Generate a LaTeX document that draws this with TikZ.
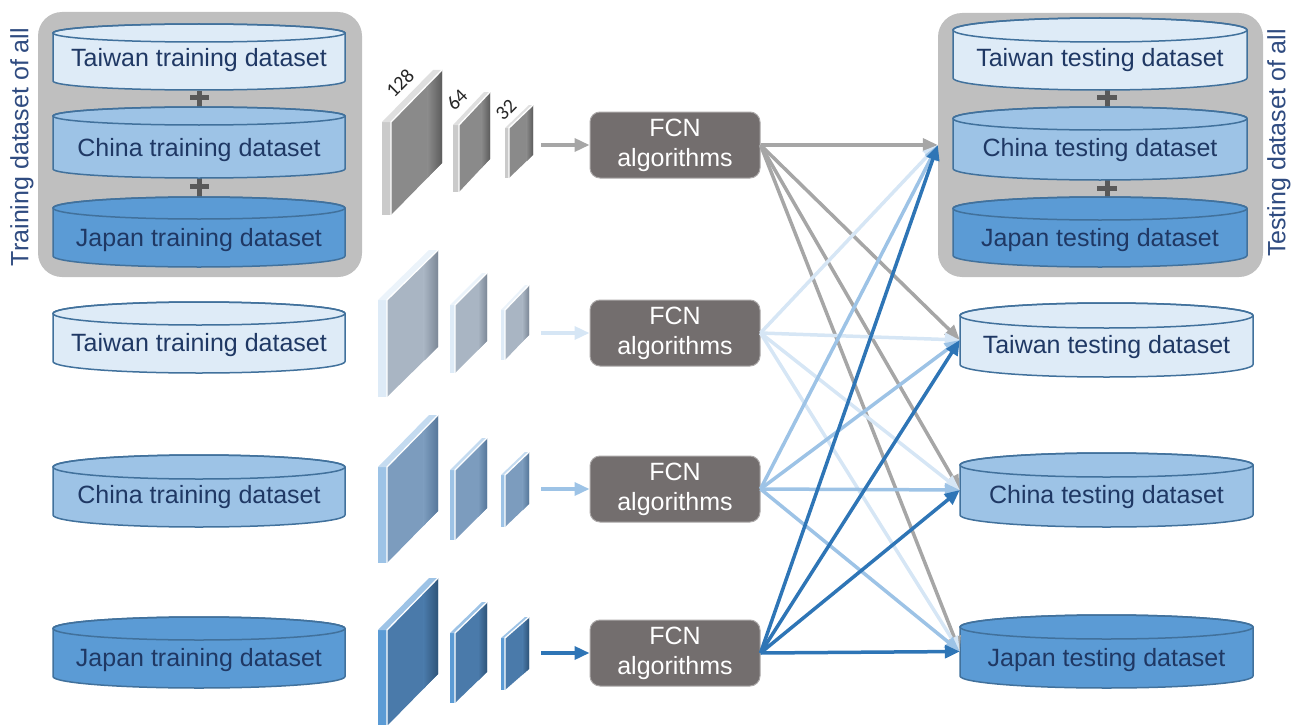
\documentclass[tikz,border=0pt]{standalone}
\usepackage{fontspec}
\setmainfont{Liberation Sans}
\newfontfamily\calibfont{Carlito}
\usetikzlibrary{arrows.meta}

\definecolor{twfill}{HTML}{DEEBF7}
\definecolor{cnfill}{HTML}{9DC3E6}
\definecolor{jpfill}{HTML}{5B9BD5}
\definecolor{cylline}{HTML}{41719C}
\definecolor{txtnavy}{HTML}{1F3864}
\definecolor{grpgray}{HTML}{BFBFBF}
\definecolor{fcnfill}{HTML}{736E6E}
\definecolor{plusgray}{HTML}{595959}
\definecolor{agray}{HTML}{A6A6A6}
\definecolor{alight}{HTML}{D6E6F5}
\definecolor{amid}{HTML}{9DC3E6}
\definecolor{adark}{HTML}{2E75B6}
\definecolor{vlabel}{HTML}{2F4B80}
% slab colours
\definecolor{gstrip}{HTML}{CACACA}
\definecolor{gfacel}{HTML}{8A8A8A}
\definecolor{gfacer}{HTML}{5C5C5C}
\definecolor{lstrip}{HTML}{DEEBF7}
\definecolor{lfacel}{HTML}{A9B5C3}
\definecolor{lfacer}{HTML}{7C8897}
\definecolor{mstrip}{HTML}{9DC3E6}
\definecolor{mfacel}{HTML}{7C9CBE}
\definecolor{mfacer}{HTML}{56779A}
\definecolor{dstrip}{HTML}{5B9BD5}
\definecolor{dfacel}{HTML}{4A7AAA}
\definecolor{dfacer}{HTML}{2E5479}

\newcommand{\mycyl}[9]{%
  \pgfmathsetmacro{\cxa}{(#2+#3)/2}%
  \pgfmathsetmacro{\rxa}{(#3-#2)/2}%
  \pgfmathsetmacro{\yta}{#4+#6}%
  \pgfmathsetmacro{\yba}{#5-#6}%
  \pgfmathsetmacro{\cya}{(#4+#5)/2}%
  \pgfmathsetmacro{\wa}{#3-#2}%
  \pgfmathsetmacro{\ha}{#5-#4}%
  \filldraw[fill=#7, draw=cylline, line width=1.5pt, line join=round]
    (#2,\yta) -- (#2,\yba) arc[start angle=180, end angle=360, x radius=\rxa pt, y radius=#6 pt]
    -- (#3,\yta) arc[start angle=0, end angle=180, x radius=\rxa pt, y radius=#6 pt] -- cycle;
  \draw[draw=cylline, line width=1.5pt] (\cxa,\yta) ellipse[x radius=\rxa pt, y radius=#6 pt];
  \node[inner sep=0pt, minimum width=\wa pt, minimum height=\ha pt] (#1) at (\cxa,\cya) {};
  \node[cyltext] (#1-t) at (\cxa,#8) {#9};
}

% x, y (top-left of face), w, h, rise, thickness, colour prefix
\newcommand{\myslab}[7]{%
  \pgfmathsetmacro{\bx}{#1+0.72*#3}%
  \pgfmathsetmacro{\by}{#2-0.72*#5}%
  \fill[#7strip] (#1-#6,#2) -- (#1,#2) -- (#1,#2+#4) -- (#1-#6,#2+#4) -- cycle;
  \fill[#7strip!60!white] (#1-#6,#2) -- (#1+#3-#6,#2-#5) -- (#1+#3,#2-#5) -- (#1,#2) -- cycle;
  \fill[#7facel] (#1,#2) -- (#1+#3,#2-#5) -- (#1+#3,#2-#5+#4) -- (#1,#2+#4) -- cycle;
  \shade[left color=#7facel, right color=#7facer] (\bx,\by) -- (#1+#3,#2-#5) -- (#1+#3,#2-#5+#4) -- (\bx,\by+#4) -- cycle;
  \draw[white, line width=1.3pt, line join=round] (#1,#2+#4) -- (#1,#2) -- (#1+#3,#2-#5);
}

\tikzset{
  cyltext/.style={text=txtnavy, font=\fontsize{25}{30}\selectfont, inner sep=0pt},
  grp/.style={fill=grpgray, rounded corners=24pt, inner sep=0pt},
  fcn/.style={fill=fcnfill, draw=fcnfill!60!white, line width=1pt, rounded corners=10pt,
    minimum width=170pt, minimum height=66pt, inner sep=0pt, align=center, text=white,
    font=\fontsize{25}{30}\selectfont},
  vlab/.style={text=vlabel, font=\fontsize{25}{30}\selectfont, inner sep=0pt},
  numlbl/.style={text=black!85, font=\calibfont\fontsize{20}{24}\selectfont, inner sep=0pt},
  conn/.style={line width=3.5pt, -{Triangle[length=15pt,width=13pt]}},
  plusbar/.style={plusgray, line width=5pt}
}

\begin{document}
\begin{tikzpicture}[x=1pt, y=-1pt]
\useasboundingbox (0,0) rectangle (1304,725);

% group boxes
\node[grp, minimum width=324pt, minimum height=265pt] (trainall) at (200,144.5) {};
\node[grp, minimum width=325pt, minimum height=264pt] (testall) at (1100.5,145) {};

% plus signs
\draw[plusbar] (199,91) -- (199,107) (190,97) -- (209,97);
\draw[plusbar] (199,178) -- (199,197) (190,186) -- (209,186);
\draw[plusbar] (1107,90) -- (1107,107) (1097,97) -- (1117,97);
\draw[plusbar] (1107,180) -- (1107,197) (1097,188) -- (1117,188);

% left group cylinders
\mycyl{gtw}{53}{345}{24}{90}{9}{twfill}{60}{Taiwan training dataset}
\mycyl{gcn}{53}{345}{107}{178}{9}{cnfill}{150}{China training dataset}
\mycyl{gjp}{53}{345}{197}{267}{11}{jpfill}{240}{Japan training dataset}

% right group cylinders
\mycyl{htw}{953}{1247}{18}{90}{12}{twfill}{60}{Taiwan testing dataset}
\mycyl{hcn}{953}{1247}{107}{180}{11.5}{cnfill}{150}{China testing dataset}
\mycyl{hjp}{953}{1247}{197}{267}{11.5}{jpfill}{240}{Japan testing dataset}

% standalone training cylinders
\mycyl{trw}{53}{345}{302}{373}{11.5}{twfill}{345}{Taiwan training dataset}
\mycyl{trc}{53}{345}{455}{527}{12}{cnfill}{497}{China training dataset}
\mycyl{trj}{53}{345}{617}{688}{11.5}{jpfill}{660}{Japan training dataset}

% standalone testing cylinders
\mycyl{tt}{960}{1253}{303}{377}{12.5}{twfill}{347}{Taiwan testing dataset}
\mycyl{ct}{960}{1253}{453}{527}{12}{cnfill}{497}{China testing dataset}
\mycyl{jt}{960}{1253}{615}{688}{12}{jpfill}{660}{Japan testing dataset}

% vertical labels
\node[vlab, rotate=90] (trainlbl) at (22,147) {Training dataset of all};
\node[vlab, rotate=90] (testlbl) at (1279,143) {Testing dataset of all};

% layer slabs, row 1 (gray)
\myslab{391}{122}{51}{93}{52}{9}{g}
\myslab{459}{125}{31}{67}{33}{6}{g}
\myslab{509}{128}{24}{50}{23}{4}{g}
\node[numlbl, rotate=45] (n128) at (400,83) {128};
\node[numlbl, rotate=45] (n64) at (457,100) {64};
\node[numlbl, rotate=45] (n32) at (506,110) {32};

% row 2 (light blue)
\myslab{387}{300}{51}{97}{50}{9}{l}
\myslab{455}{305}{32}{68}{32}{5}{l}
\myslab{505}{310}{24}{50}{25}{4}{l}

% row 3 (mid blue)
\myslab{387}{467}{51}{96}{52}{9}{m}
\myslab{455}{470}{32}{70}{32}{5}{m}
\myslab{505}{475}{24}{52}{23}{4}{m}

% row 4 (dark blue)
\myslab{387}{630}{51}{96}{52}{9}{d}
\myslab{455}{633}{32}{70}{31}{5}{d}
\myslab{505}{638}{24}{52}{21}{4}{d}

% FCN boxes
\node[fcn] (f1) at (675,145) {FCN\\algorithms};
\node[fcn] (f2) at (675,333) {FCN\\algorithms};
\node[fcn] (f3) at (675,489) {FCN\\algorithms};
\node[fcn] (f4) at (675,653) {FCN\\algorithms};

% input arrows
\coordinate (s1) at (541,145);
\coordinate (s2) at (541,333);
\coordinate (s3) at (541,489);
\coordinate (s4) at (541,653);
\draw[conn, agray] (s1) -- (f1);
\draw[conn, alight] (s2) -- (f2);
\draw[conn, amid] (s3) -- (f3);
\draw[conn, adark] (s4) -- (f4);

% output connectors
\foreach \s/\c in {f1/agray, f2/alight, f3/amid, f4/adark} {
  \foreach \t in {testall, tt, ct, jt} {
    \draw[conn, \c] (\s.east) -- (\t.west);
  }
}
\end{tikzpicture}
\end{document}
